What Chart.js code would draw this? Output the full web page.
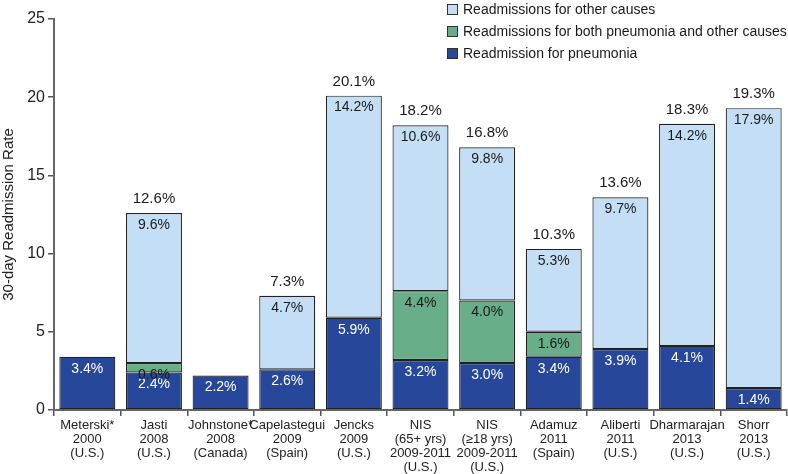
<!DOCTYPE html>
<html>
<head>
<meta charset="utf-8">
<script src="https://cdn.jsdelivr.net/npm/chart.js@4.4.1/dist/chart.umd.min.js"></script>
<style>
  body { margin: 0; background: #fff; }
</style>
</head>
<body>
<canvas id="grafico" width="788" height="474"></canvas>
<script>
const estudios = [
  ['Meterski*', '2000', '(U.S.)'],
  ['Jasti', '2008', '(U.S.)'],
  ['Johnstone*', '2008', '(Canada)'],
  ['Capelastegui', '2009', '(Spain)'],
  ['Jencks', '2009', '(U.S.)'],
  ['NIS', '(65+ yrs)', '2009-2011', '(U.S.)'],
  ['NIS', '(≥18 yrs)', '2009-2011', '(U.S.)'],
  ['Adamuz', '2011', '(Spain)'],
  ['Aliberti', '2011', '(U.S.)'],
  ['Dharmarajan', '2013', '(U.S.)'],
  ['Shorr', '2013', '(U.S.)']
];

const neumonia = [3.4, 2.4, 2.2, 2.6, 5.9, 3.2, 3.0, 3.4, 3.9, 4.1, 1.4];
const ambas = [null, 0.6, null, null, null, 4.4, 4.0, 1.6, null, null, null];
const otras = [null, 9.6, null, 4.7, 14.2, 10.6, 9.8, 5.3, 9.7, 14.2, 17.9];
const totales = [null, 12.6, null, 7.3, 20.1, 18.2, 16.8, 10.3, 13.6, 18.3, 19.3];

const yTicks = [0, 5, 10, 15, 20, 25];

const FUENTE = '"Liberation Sans", Arial, sans-serif';
const AZUL = '#27489a';
const VERDE = '#67ae89';
const CELESTE = '#c4dff5';

// etiquetas dentro de cada segmento y total arriba
const etiquetas = {
  id: 'etiquetas',
  afterDatasetsDraw(chart) {
    const ctx = chart.ctx;
    ctx.save();
    ctx.font = '14px ' + FUENTE;
    ctx.textAlign = 'center';
    ctx.textBaseline = 'middle';
    chart.data.datasets.forEach((ds, i) => {
      const meta = chart.getDatasetMeta(i);
      meta.data.forEach((bar, j) => {
        const v = ds.data[j];
        if (v === null) return;
        ctx.fillStyle = i === 0 ? '#ffffff' : '#1a1a1a';
        ctx.fillText(v.toFixed(1) + '%', bar.x, bar.y + 12);
      });
    });
    const yScale = chart.scales.y;
    const meta0 = chart.getDatasetMeta(0);
    ctx.font = '15px ' + FUENTE;
    ctx.fillStyle = '#1a1a1a';
    totales.forEach((t, j) => {
      if (t === null) return;
      ctx.fillText(t.toFixed(1) + '%', meta0.data[j].x, yScale.getPixelForValue(t) - 14);
    });
    ctx.restore();
  }
};

// leyenda arriba a la derecha, sobre el área del gráfico
const leyenda = {
  id: 'leyenda',
  afterDraw(chart) {
    const ctx = chart.ctx;
    const items = chart.data.datasets.slice().reverse();
    ctx.save();
    ctx.font = '14px ' + FUENTE;
    ctx.textBaseline = 'middle';
    items.forEach((ds, k) => {
      const y = 10 + k * 22;
      ctx.fillStyle = ds.backgroundColor;
      ctx.fillRect(447.5, y - 5.5, 10, 10);
      ctx.strokeStyle = '#333';
      ctx.lineWidth = 1;
      ctx.strokeRect(447.5, y - 5.5, 10, 10);
      ctx.fillStyle = '#1a1a1a';
      ctx.fillText(ds.label, 463, y);
    });
    ctx.restore();
  }
};

const dataset = (label, data, color) => ({
  label,
  data,
  backgroundColor: color,
  borderColor: '#222',
  borderWidth: 1.2,
  borderSkipped: false,
  categoryPercentage: 0.84,
  barPercentage: 1
});

const ctx = document.getElementById('grafico').getContext('2d');
new Chart(ctx, {
  type: 'bar',
  data: {
    labels: estudios,
    datasets: [
      dataset('Readmission for pneumonia', neumonia, AZUL),
      dataset('Readmissions for both pneumonia and other causes', ambas, VERDE),
      dataset('Readmissions for other causes', otras, CELESTE)
    ]
  },
  options: {
    responsive: false,
    animation: false,
    layout: { padding: { top: 19, right: 1, left: 0, bottom: 0 } },
    plugins: {
      legend: { display: false },
      tooltip: { enabled: false }
    },
    scales: {
      x: {
        stacked: true,
        grid: { offset: true, drawOnChartArea: false, tickLength: 6, color: '#555', lineWidth: 1.5 },
        border: { color: '#666', width: 2 },
        ticks: {
          color: '#222',
          font: { family: FUENTE, size: 13, lineHeight: 1.08 },
          padding: 2,
          maxRotation: 0,
          autoSkip: false
        },
        afterFit: (scale) => { scale.height = 64; }
      },
      y: {
        stacked: true,
        min: 0,
        max: 25,
        afterBuildTicks: (scale) => { scale.ticks = yTicks.map(v => ({ value: v })); },
        grid: { drawOnChartArea: false, tickLength: 6, color: '#555', lineWidth: 1.5 },
        border: { color: '#666', width: 2 },
        ticks: {
          color: '#222',
          font: { family: FUENTE, size: 16 },
          padding: 3
        },
        title: {
          display: true,
          text: '30-day Readmission Rate',
          color: '#222',
          font: { family: FUENTE, size: 15 },
          padding: { top: 0, bottom: 2 }
        },
        afterFit: (scale) => { scale.width = 54; }
      }
    }
  },
  plugins: [etiquetas, leyenda]
});
</script>
</body>
</html>
